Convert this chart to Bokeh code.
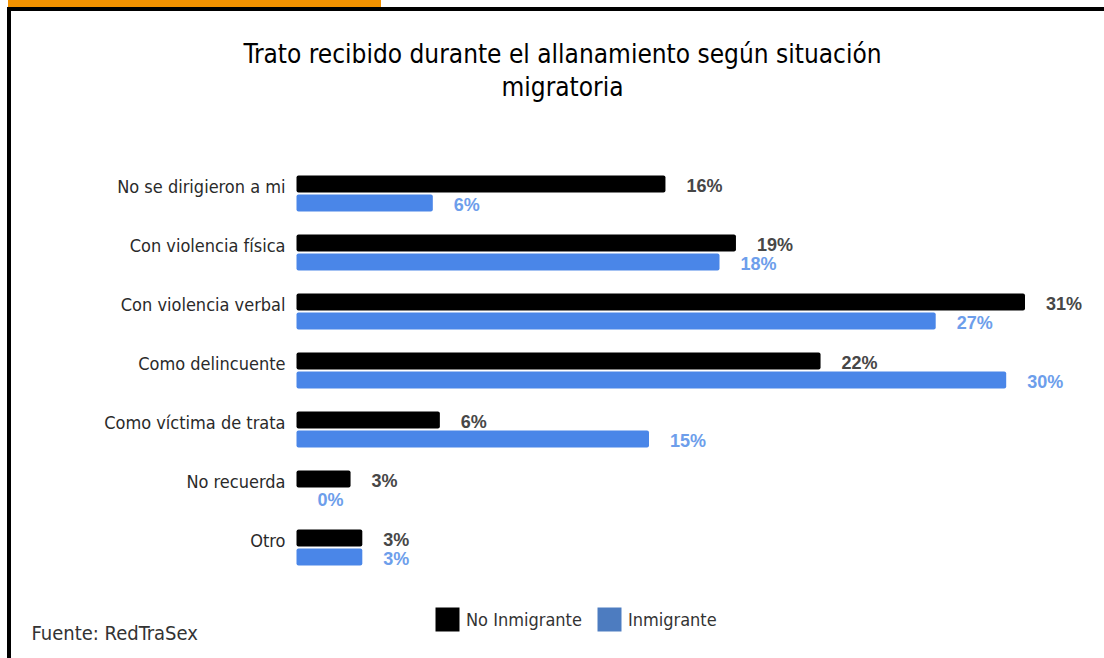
from bokeh.plotting import figure
from bokeh.models import (Range1d, ColumnDataSource, Legend, LegendItem, Label, Div, Spacer)
from bokeh.layouts import column, row
from bokeh.core.properties import value
from bokeh.embed import file_html
from bokeh.resources import INLINE

# ---------------- data ----------------
categories = ["No se dirigieron a mi", "Con violencia física", "Con violencia verbal",
              "Como delincuente", "Como víctima de trata", "No recuerda", "Otro"]
no_inmigrante = [15.7, 18.7, 31.0, 22.3, 6.1, 2.3, 2.8]
inmigrante = [5.8, 18.0, 27.2, 30.2, 15.0, 0.0, 2.8]
no_inmigrante_labels = ["16%", "19%", "31%", "22%", "6%", "3%", "3%"]
inmigrante_labels = ["6%", "18%", "27%", "30%", "15%", "0%", "3%"]
series_names = ["No Inmigrante", "Inmigrante"]
title_lines = ["Trato recibido durante el allanamiento según situación", "migratoria"]
source_text = "Fuente: RedTraSex"

NARROW = "'Liberation Sans Narrow', 'DejaVu Sans Condensed', sans-serif"
BLACK = "#000000"
BLUE = "#4a86e8"
LEG_BLUE = "#4d7cc0"

OFF = 0.161      # half distance between the two bars of a group (in row units)
H = 0.288        # bar thickness (in row units)

rows = [-i for i in range(len(categories))]   # top row first
src = ColumnDataSource(dict(
    row=rows, cat=categories, a=no_inmigrante, b=inmigrante,
    la=no_inmigrante_labels, lb=inmigrante_labels,
    ya=[r + OFF for r in rows], yb=[r - OFF for r in rows],
    zero=[0] * len(rows)))

W, HGT = 1093, 647
p = figure(width=W, height=HGT, title=None,
           x_range=Range1d(-12.128, 34.383), y_range=Range1d(-7.881, 3.085),
           output_backend="svg", toolbar_location=None,
           min_border=0, margin=0)
p.xaxis.visible = False
p.yaxis.visible = False
p.xgrid.visible = False
p.ygrid.visible = False
p.outline_line_color = None
p.background_fill_color = "white"
p.border_fill_color = "white"

p.hbar(y="ya", left=0, right="a", height=H, source=src,
       fill_color=BLACK, line_color=None, border_radius=2)
p.hbar(y="yb", left=0, right="b", height=H, source=src,
       fill_color=BLUE, line_color=None, border_radius=2)

# category labels
p.text(x="zero", y="row", text="cat", source=src, x_offset=-11, y_offset=-7,
       text_align="right", text_baseline="middle",
       text_font=value(NARROW), text_font_size="18px", text_color="#2a2a2a")

# value labels
p.text(x="a", y="ya", text="la", source=src, x_offset=21, y_offset=2,
       text_baseline="middle", text_align="left",
       text_font=value("Liberation Sans"), text_font_size="18px", text_font_style="bold",
       text_color="#474747")
p.text(x="b", y="yb", text="lb", source=src, x_offset=21, y_offset=2,
       text_baseline="middle", text_align="left",
       text_font=value("Liberation Sans"), text_font_size="18px", text_font_style="bold",
       text_color="#6d9eeb")

# legend-only renderers (zero thickness, so nothing shows in the plot area)
r1 = p.hbar(y="ya", left=0, right="a", height=0, source=src,
            fill_color=BLACK, line_color=None)
r2 = p.hbar(y="yb", left=0, right="b", height=0, source=src,
            fill_color=LEG_BLUE, line_color=None)
legend = Legend(items=[LegendItem(label=series_names[0], renderers=[r1]),
                       LegendItem(label=series_names[1], renderers=[r2])],
                location=(421, 24), orientation="horizontal", padding=0, margin=0,
                spacing=12, glyph_width=30, glyph_height=30, label_standoff=4,
                label_height=30, label_text_font=NARROW, label_text_font_size="18px",
                label_text_color="#333333", border_line_color=None,
                background_fill_alpha=0)
p.add_layout(legend)

# titles and source
p.add_layout(Label(x=551, y=HGT - 42, x_units="screen", y_units="screen",
                   text=title_lines[0], text_align="center", text_baseline="middle",
                   text_font=NARROW, text_font_size="26px", text_color="#000000"))
p.add_layout(Label(x=551, y=HGT - 75, x_units="screen", y_units="screen",
                   text=title_lines[1], text_align="center", text_baseline="middle",
                   text_font=NARROW, text_font_size="26px", text_color="#000000"))
p.add_layout(Label(x=20, y=26, x_units="screen", y_units="screen", text=source_text,
                   text_font=NARROW, text_font_size="20px", text_color="#333333",
                   text_baseline="middle"))

orange = Div(text="", width=373, height=7, margin=0,
             styles={"background-color": "#F39200"})
topline = Div(text="", width=1097, height=4, margin=0,
              styles={"background-color": "#000000"})
leftline = Div(text="", width=4, height=HGT, margin=0,
               styles={"background-color": "#000000"})
layout = column(
    row(Spacer(width=8, height=7, margin=0), orange, spacing=0, margin=0),
    row(Spacer(width=7, height=4, margin=0), topline, spacing=0, margin=0),
    row(Spacer(width=7, height=HGT, margin=0), leftline, p, spacing=0, margin=0),
    spacing=0, margin=0)

open("out.html", "w").write(file_html(layout, INLINE))
